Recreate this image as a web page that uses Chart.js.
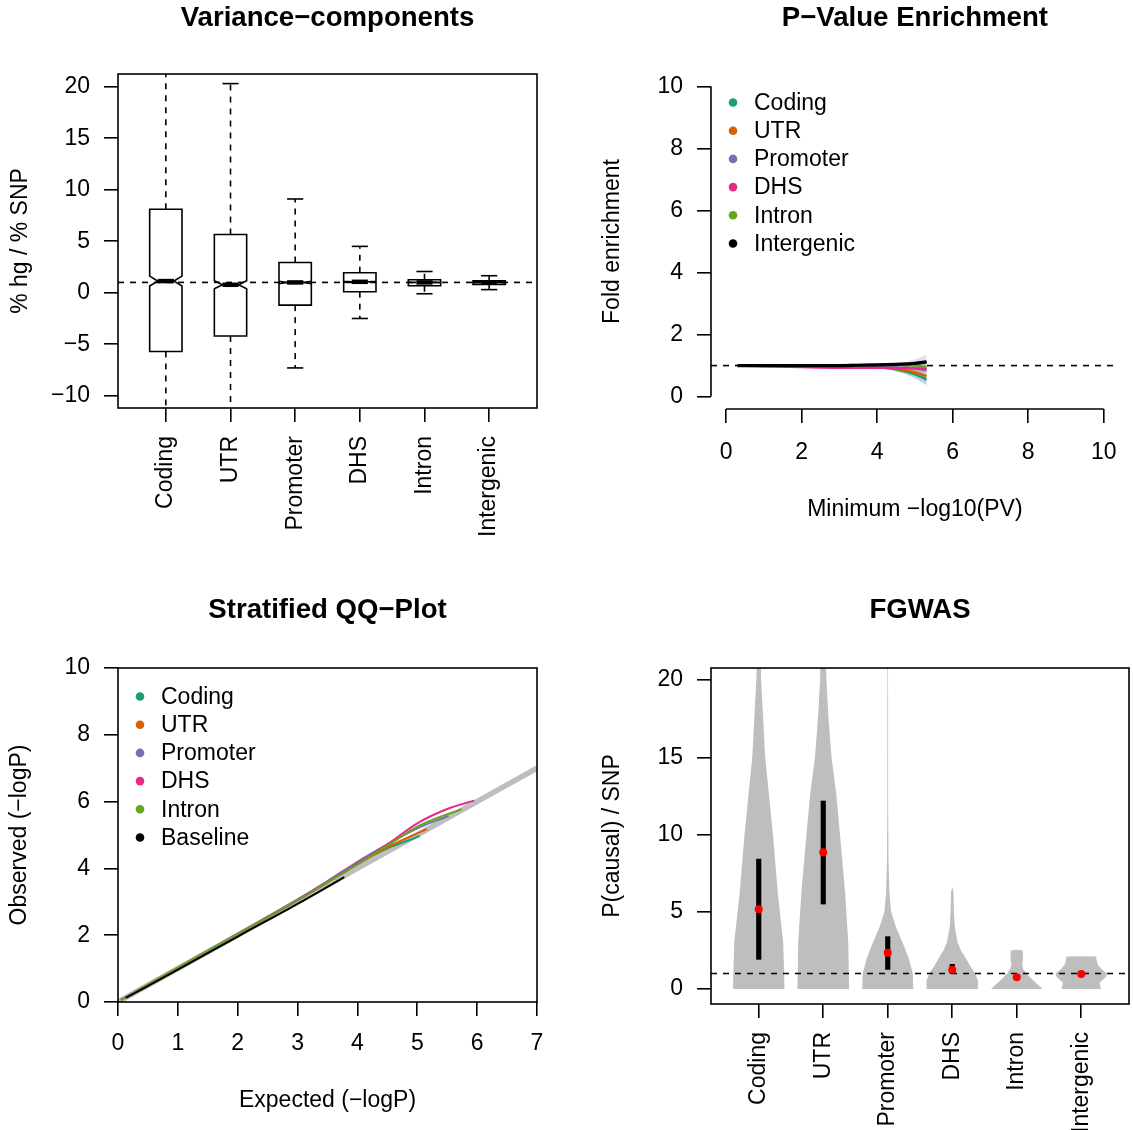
<!DOCTYPE html>
<html>
<head>
<meta charset="utf-8">
<script src="https://cdn.jsdelivr.net/npm/chart.js@4.4.0/dist/chart.umd.min.js"></script>
<style>
  body { margin: 0; background: #fff; }
  #wrap { position: relative; width: 1133px; height: 1130px; background: #fff; }
  canvas { position: absolute; }
</style>
</head>
<body>
<div id="wrap">
  <canvas id="vc" width="566" height="565" style="left:0;top:0"></canvas>
  <canvas id="pv" width="567" height="565" style="left:566px;top:0"></canvas>
  <canvas id="qq" width="566" height="565" style="left:0;top:565px"></canvas>
  <canvas id="fg" width="567" height="565" style="left:566px;top:565px"></canvas>
</div>
<script>
const cats = ['Coding', 'UTR', 'Promoter', 'DHS', 'Intron', 'Intergenic'];
const catColors = ['#1B9E77', '#D95F02', '#7570B3', '#E7298A', '#66A61E', '#000000'];
const qqLabels = ['Coding', 'UTR', 'Promoter', 'DHS', 'Intron', 'Baseline'];

// variance components (boxplot stats)
const vcLow   = [-15, -15, -7.3, -2.5, -0.1, 0.3];
const vcQ1    = [-5.7, -4.2, -1.2, 0.1, 0.68, 0.8];
const vcMed   = [1.13, 0.77, 1.0, 1.06, 1.0, 1.0];
const vcQ3    = [8.1, 5.65, 2.93, 1.94, 1.26, 1.15];
const vcHigh  = [25, 20.3, 9.1, 4.5, 2.06, 1.65];
const vcNotch = [0.48, 0.39, 0.12, 0.06, 0.02, 0.02];

// p-value enrichment
const pvX          = [0.3, 1, 2, 3, 3.5, 4, 4.5, 5, 5.31];
const pvCoding     = [1, 1, 1, 0.995, 0.99, 0.96, 0.88, 0.72, 0.55];
const pvUTR        = [1, 1, 1, 0.995, 0.99, 0.97, 0.9, 0.78, 0.66];
const pvPromoter   = [1, 1, 0.995, 0.99, 0.98, 0.97, 0.94, 0.9, 0.85];
const pvDHS        = [1, 0.98, 0.95, 0.93, 0.93, 0.93, 0.92, 0.91, 0.9];
const pvIntron     = [1, 1, 1, 1.01, 1.02, 1.03, 1.03, 1.0, 0.95];
const pvIntergenic = [1, 1, 1, 1.0, 1.01, 1.02, 1.04, 1.07, 1.12];
const pvCodingSe     = [0, 0, 0.002, 0.005, 0.01, 0.03, 0.07, 0.12, 0.16];
const pvUTRSe        = [0, 0, 0.002, 0.005, 0.01, 0.03, 0.06, 0.1, 0.14];
const pvPromoterSe   = [0, 0, 0.003, 0.008, 0.015, 0.04, 0.12, 0.3, 0.5];
const pvDHSSe        = [0, 0, 0.002, 0.005, 0.01, 0.03, 0.06, 0.1, 0.15];
const pvIntronSe     = [0, 0, 0.002, 0.005, 0.01, 0.02, 0.05, 0.09, 0.12];
const pvIntergenicSe = [0, 0, 0.001, 0.003, 0.005, 0.01, 0.02, 0.04, 0.05];

// stratified QQ
const qqCodingX   = [0.05, 1, 2, 3, 3.5, 4, 4.5, 4.8, 5.04];
const qqCodingY   = [0.06, 1.02, 2.03, 3.05, 3.58, 4.13, 4.6, 4.8, 4.97];
const qqUTRX      = [0.05, 1, 2, 3, 3.5, 4, 4.5, 4.9, 5.16];
const qqUTRY      = [0.06, 1.02, 2.03, 3.05, 3.58, 4.13, 4.63, 4.97, 5.18];
const qqPromoterX = [0.05, 1, 2, 3, 3.5, 4, 4.5, 5, 5.52];
const qqPromoterY = [0.06, 1.02, 2.04, 3.07, 3.62, 4.2, 4.72, 5.2, 5.57];
const qqDHSX      = [0.05, 1, 2, 3, 3.5, 4, 4.5, 5, 5.5, 5.95];
const qqDHSY      = [0.06, 1.02, 2.03, 3.05, 3.6, 4.15, 4.72, 5.35, 5.78, 6.03];
const qqIntronX   = [0.05, 1, 2, 3, 3.5, 4, 4.5, 5, 5.5, 5.74];
const qqIntronY   = [0.06, 1.02, 2.03, 3.04, 3.58, 4.12, 4.68, 5.25, 5.62, 5.77];
const qqBaseX     = [0.13, 1, 2, 3, 3.5, 3.78];
const qqBaseY     = [0.12, 0.97, 1.96, 2.94, 3.45, 3.74];

// FGWAS violins: density profile (relative half width) at y levels
const fgCodingY     = [0, 3, 6.2, 10, 12.7, 15, 17.9, 20.1, 22];
const fgCodingW     = [1, 0.95, 0.74, 0.55, 0.39, 0.25, 0.16, 0.09, 0.07];
const fgUTRY        = [0, 3, 6.2, 10, 12.7, 15, 17.9, 20.1, 22];
const fgUTRW        = [1, 0.97, 0.85, 0.65, 0.5, 0.32, 0.19, 0.12, 0.1];
const fgPromoterY   = [0, 1, 2, 3, 4, 5, 6.2, 8.3, 12, 22];
const fgPromoterW   = [0.99, 0.97, 0.81, 0.58, 0.32, 0.13, 0.065, 0.03, 0.015, 0.012];
const fgDHSY        = [0, 0.5, 1, 1.5, 2, 2.5, 3, 4, 5, 6.3, 6.6];
const fgDHSW        = [0.99, 1, 0.89, 0.69, 0.52, 0.34, 0.21, 0.1, 0.065, 0.045, 0];
const fgIntronY     = [0, 0.3, 0.6, 1, 1.3, 1.6, 2, 2.5, 2.55];
const fgIntronW     = [1, 0.81, 0.61, 0.37, 0.25, 0.21, 0.245, 0.23, 0];
const fgIntergenicY = [0, 0.4, 0.8, 1.0, 1.3, 1.6, 2.0, 2.1, 2.12];
const fgIntergenicW = [0.76, 0.71, 0.96, 1, 0.78, 0.63, 0.58, 0.58, 0];
const fgMed = [5.16, 8.85, 2.35, 1.25, 0.76, 0.97];
const fgQ1  = [1.92, 5.5, 1.27, 1.0, 0.74, 0.95];
const fgQ3  = [8.41, 12.17, 3.39, 1.6, 0.78, 1.0];

Chart.defaults.font.family = '"Liberation Sans", Arial, Helvetica, sans-serif';
Chart.defaults.color = '#000';

const fmt = v => (v < 0 ? '\u2212' + (-v) : String(v));
const rgba = (hex, a) => {
  const n = parseInt(hex.slice(1), 16);
  return 'rgba(' + (n >> 16) + ',' + ((n >> 8) & 255) + ',' + (n & 255) + ',' + a + ')';
};

function rAxis(min, max, tickVals, size, extra) {
  const s = {
    type: 'linear', min: min, max: max, offset: false,
    afterBuildTicks: sc => { sc.ticks = tickVals.map(v => ({ value: v })); },
    afterFit: sc => { if (sc.isHorizontal()) sc.height = size; else sc.width = size; },
    grid: { drawOnChartArea: false, offset: false, tickLength: 14, color: '#000', lineWidth: 1.6 },
    border: { display: false },
    ticks: { color: '#000', font: { size: 23 }, padding: 14, autoSkip: false, minRotation: 0, maxRotation: 0, callback: v => fmt(v) }
  };
  if (extra.title) s.title = Object.assign({ display: true, color: '#000', font: { size: 23 } }, extra.title);
  if (extra.ticks) Object.assign(s.ticks, extra.ticks);
  return s;
}

function mainTitle(text, top, bottom) {
  return { display: true, text: text, fullSize: false, color: '#000',
           font: { size: 27.6, weight: 'bold' }, padding: { top: top, bottom: bottom } };
}

function seg(ctx, x1, y1, x2, y2) {
  ctx.beginPath(); ctx.moveTo(x1, y1); ctx.lineTo(x2, y2); ctx.stroke();
}

// plot frame (or R style open axes)
const framePlugin = {
  id: 'frame',
  afterDatasetsDraw(chart, args, opts) {
    const { ctx, chartArea: a, scales: { x, y } } = chart;
    ctx.save();
    ctx.strokeStyle = '#000';
    ctx.lineWidth = 1.6;
    if (opts.open) {
      const xt = x.ticks, yt = y.ticks;
      seg(ctx, x.getPixelForValue(xt[0].value), a.bottom, x.getPixelForValue(xt[xt.length - 1].value), a.bottom);
      seg(ctx, a.left, y.getPixelForValue(yt[0].value), a.left, y.getPixelForValue(yt[yt.length - 1].value));
    } else {
      ctx.strokeRect(a.left, a.top, a.width, a.height);
    }
    ctx.restore();
  }
};

// legend with dots inside the plot
const dotLegend = {
  id: 'dotLegend',
  afterDraw(chart, args, opts) {
    const { ctx, chartArea: a } = chart;
    ctx.save();
    ctx.font = '23px "Liberation Sans", Arial, sans-serif';
    ctx.textBaseline = 'middle';
    opts.labels.forEach((lab, i) => {
      const yy = a.top + 28.5 + i * 28.2;
      ctx.fillStyle = catColors[i];
      ctx.beginPath(); ctx.arc(a.left + 22, yy, 4.3, 0, Math.PI * 2); ctx.fill();
      ctx.fillStyle = '#000';
      ctx.fillText(lab, a.left + 43, yy + 1);
    });
    ctx.restore();
  }
};

// notched boxplots
const boxPlugin = {
  id: 'boxes',
  beforeDatasetsDraw(chart) {
    const { ctx, chartArea: a, scales: { x, y } } = chart;
    ctx.save();
    ctx.beginPath(); ctx.rect(a.left, a.top, a.width, a.height); ctx.clip();
    ctx.strokeStyle = '#000';
    ctx.lineWidth = 1.6;
    const half = x.getPixelForValue(1.25) - x.getPixelForValue(1);
    cats.forEach((c, i) => {
      const cx = x.getPixelForValue(i + 1);
      const lo = y.getPixelForValue(vcLow[i]), hi = y.getPixelForValue(vcHigh[i]);
      const q1 = y.getPixelForValue(vcQ1[i]), q3 = y.getPixelForValue(vcQ3[i]);
      const md = y.getPixelForValue(vcMed[i]);
      const nt = y.getPixelForValue(vcMed[i] + vcNotch[i]), nb = y.getPixelForValue(vcMed[i] - vcNotch[i]);
      ctx.setLineDash([6, 6]);
      seg(ctx, cx, q3, cx, hi);
      seg(ctx, cx, q1, cx, lo);
      ctx.setLineDash([]);
      seg(ctx, cx - half / 2, hi, cx + half / 2, hi);
      seg(ctx, cx - half / 2, lo, cx + half / 2, lo);
      ctx.beginPath();
      ctx.moveTo(cx - half, q3); ctx.lineTo(cx + half, q3); ctx.lineTo(cx + half, nt);
      ctx.lineTo(cx + half / 2, md); ctx.lineTo(cx + half, nb); ctx.lineTo(cx + half, q1);
      ctx.lineTo(cx - half, q1); ctx.lineTo(cx - half, nb); ctx.lineTo(cx - half / 2, md);
      ctx.lineTo(cx - half, nt); ctx.closePath();
      ctx.fillStyle = '#fff'; ctx.fill(); ctx.stroke();
      ctx.lineWidth = 4.5;
      seg(ctx, cx - half / 2, md, cx + half / 2, md);
      ctx.lineWidth = 1.6;
    });
    ctx.restore();
  }
};

// violins
const fgYs = [fgCodingY, fgUTRY, fgPromoterY, fgDHSY, fgIntronY, fgIntergenicY];
const fgWs = [fgCodingW, fgUTRW, fgPromoterW, fgDHSW, fgIntronW, fgIntergenicW];
const violinPlugin = {
  id: 'violins',
  beforeDatasetsDraw(chart) {
    const { ctx, chartArea: a, scales: { x, y } } = chart;
    ctx.save();
    ctx.beginPath(); ctx.rect(a.left, a.top, a.width, a.height); ctx.clip();
    ctx.fillStyle = '#BEBEBE';
    fgYs.forEach((ys, i) => {
      const ws = fgWs[i];
      ctx.beginPath();
      ys.forEach((v, j) => ctx.lineTo(x.getPixelForValue(i + 1 + 0.4 * ws[j]), y.getPixelForValue(v)));
      for (let j = ys.length - 1; j >= 0; j--) ctx.lineTo(x.getPixelForValue(i + 1 - 0.4 * ws[j]), y.getPixelForValue(ys[j]));
      ctx.closePath();
      ctx.fill();
    });
    ctx.restore();
  }
};

const common = { responsive: false, animation: false, events: [] };
const pts = (xs, ys) => xs.map((v, j) => ({ x: v, y: ys[j] }));

// ---- panel 1: variance components
new Chart(document.getElementById('vc'), {
  type: 'line',
  data: { datasets: [{ data: [{ x: 0.26, y: 1 }, { x: 6.74, y: 1 }], borderColor: '#000', borderWidth: 1.6, borderDash: [6, 6], pointRadius: 0 }] },
  options: Object.assign({}, common, {
    layout: { padding: { left: 0, right: 29, top: 0, bottom: 0 } },
    plugins: { legend: { display: false }, tooltip: { enabled: false }, title: mainTitle('Variance\u2212components', 1.5, 39.4) },
    scales: {
      x: rAxis(0.26, 6.74, [1, 2, 3, 4, 5, 6], 157, { ticks: { minRotation: 90, maxRotation: 90, callback: v => cats[v - 1] } }),
      y: rAxis(-11.19, 21.23, [-10, -5, 0, 5, 10, 15, 20], 118, { title: { text: '% hg / % SNP', padding: { top: 7, bottom: 0 } } })
    }
  }),
  plugins: [boxPlugin, framePlugin]
});

// ---- panel 2: p-value enrichment
const pvSeries = [pvCoding, pvUTR, pvPromoter, pvDHS, pvIntron, pvIntergenic];
const pvSe = [pvCodingSe, pvUTRSe, pvPromoterSe, pvDHSSe, pvIntronSe, pvIntergenicSe];
const pvSets = [];
pvSeries.forEach((vals, i) => {
  pvSets.push({ data: pvX.map((v, j) => ({ x: v, y: vals[j] + pvSe[i][j] })), borderWidth: 0, pointRadius: 0, fill: false, cubicInterpolationMode: 'monotone', order: 20 });
  pvSets.push({ data: pvX.map((v, j) => ({ x: v, y: vals[j] - pvSe[i][j] })), borderWidth: 0, pointRadius: 0, fill: '-1', backgroundColor: rgba(catColors[i], 0.22), cubicInterpolationMode: 'monotone', order: 20 });
});
pvSets.push({ data: [{ x: -0.4, y: 1 }, { x: 10.4, y: 1 }], borderColor: '#000', borderWidth: 1.6, borderDash: [6, 6], pointRadius: 0, order: 30 });
pvSeries.forEach((vals, i) => {
  pvSets.push({ label: cats[i], data: pts(pvX, vals), borderColor: catColors[i], borderWidth: i === 5 ? 3.2 : 2.4, pointRadius: 0, cubicInterpolationMode: 'monotone', order: 6 - i });
});
new Chart(document.getElementById('pv'), {
  type: 'line',
  data: { datasets: pvSets },
  options: Object.assign({}, common, {
    layout: { padding: { left: 0, right: 3, top: 0, bottom: 0 } },
    plugins: { legend: { display: false }, tooltip: { enabled: false }, title: mainTitle('P\u2212Value Enrichment', 1.5, 39.4),
               frame: { open: true }, dotLegend: { labels: cats } },
    scales: {
      x: rAxis(-0.4, 10.4, [0, 2, 4, 6, 8, 10], 156, { ticks: { padding: 16 }, title: { text: 'Minimum \u2212log10(PV)', padding: { top: 0, bottom: 42 } } }),
      y: rAxis(-0.4, 10.4, [0, 2, 4, 6, 8, 10], 145, { title: { text: 'Fold enrichment', padding: { top: 33, bottom: 0 } } })
    }
  }),
  plugins: [framePlugin, dotLegend]
});

// ---- panel 3: stratified QQ
const qqXs = [qqCodingX, qqUTRX, qqPromoterX, qqDHSX, qqIntronX, qqBaseX];
const qqYs = [qqCodingY, qqUTRY, qqPromoterY, qqDHSY, qqIntronY, qqBaseY];
const qqSets = [{ data: [{ x: 0, y: 0 }, { x: 7, y: 7 }], borderColor: '#BEBEBE', borderWidth: 5.5, pointRadius: 0, order: 20 }];
qqXs.forEach((xs, i) => {
  qqSets.push({ label: qqLabels[i], data: pts(xs, qqYs[i]), borderColor: catColors[i], borderWidth: 2, pointRadius: 0, cubicInterpolationMode: 'monotone', order: 6 - i });
});
new Chart(document.getElementById('qq'), {
  type: 'line',
  data: { datasets: qqSets },
  options: Object.assign({}, common, {
    layout: { padding: { left: 0, right: 29, top: 0, bottom: 0 } },
    plugins: { legend: { display: false }, tooltip: { enabled: false }, title: mainTitle('Stratified QQ\u2212Plot', 28.4, 41.5),
               dotLegend: { labels: qqLabels } },
    scales: {
      x: rAxis(0, 7, [0, 1, 2, 3, 4, 5, 6, 7], 128, { ticks: { padding: 14 }, title: { text: 'Expected (\u2212logP)', padding: { top: 0, bottom: 16 } } }),
      y: rAxis(0, 10, [0, 2, 4, 6, 8, 10], 118, { title: { text: 'Observed (\u2212logP)', padding: { top: 6, bottom: 0 } } })
    }
  }),
  plugins: [framePlugin, dotLegend]
});

// ---- panel 4: FGWAS
new Chart(document.getElementById('fg'), {
  type: 'scatter',
  data: {
    datasets: [
      { type: 'line', data: [{ x: 0.26, y: 1 }, { x: 6.74, y: 1 }], borderColor: '#000', borderWidth: 1.6, borderDash: [6, 6], pointRadius: 0, order: 3 },
      { type: 'bar', data: cats.map((c, i) => ({ x: i + 1, y: [fgQ1[i], fgQ3[i]] })), backgroundColor: '#000', barThickness: 4.5, order: 2 },
      { data: cats.map((c, i) => ({ x: i + 1, y: fgMed[i] })), backgroundColor: '#FF0000', borderWidth: 0, pointRadius: 4, order: 1 }
    ]
  },
  options: Object.assign({}, common, {
    layout: { padding: { left: 0, right: 3, top: 0, bottom: 0 } },
    plugins: { legend: { display: false }, tooltip: { enabled: false }, title: mainTitle('FGWAS', 28.4, 41.5) },
    scales: {
      x: rAxis(0.26, 6.74, [1, 2, 3, 4, 5, 6], 126, { ticks: { minRotation: 90, maxRotation: 90, callback: v => cats[v - 1] } }),
      y: rAxis(-0.97, 20.78, [0, 5, 10, 15, 20], 145, { title: { text: 'P(causal) / SNP', padding: { top: 33, bottom: 0 } } })
    }
  }),
  plugins: [violinPlugin, framePlugin]
});
</script>
</body>
</html>
